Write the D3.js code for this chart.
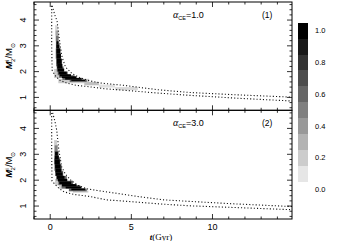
<!DOCTYPE html>
<html>
<head>
<meta charset="utf-8">
<script src="https://cdn.jsdelivr.net/npm/d3@7"></script>
<style>
  body { margin: 0; background: #fff; }
  text { font-family: "Liberation Sans", Arial, sans-serif; fill: #000; }
</style>
</head>
<body>
<svg id="chart"></svg>
<script>
// ---- data ----
const xMajor = [0, 5, 10];
const yMajor = [1, 2, 3, 4];
const colorLevels = [1.0, 0.9, 0.8, 0.7, 0.6, 0.5, 0.4, 0.3, 0.2, 0.1, 0.0];
const colorLabels = [1.0, 0.8, 0.6, 0.4, 0.2, 0.0];

// panel (1), alpha_CE = 1.0 : dotted envelope
const upper1T = [0.12, 0.28, 0.42, 0.52, 0.63, 0.73, 0.94, 1.35, 1.86, 2.44, 3.2, 4.5, 6.6, 8.6, 11.5, 14.9];
const upper1M = [4.55, 4.2, 3.97, 3.46, 2.95, 2.56, 2.18, 1.92, 1.76, 1.64, 1.55, 1.47, 1.3, 1.19, 1.1, 1.01];
const lower1T = [0.09, 0.09, 0.12, 0.3, 0.6, 1.04, 1.6, 2.44, 3.3, 4.5, 6.6, 8.6, 11.5, 14.9];
const lower1M = [4.55, 3.0, 2.05, 1.85, 1.66, 1.55, 1.47, 1.41, 1.34, 1.28, 1.17, 1.08, 0.97, 0.86];

// panel (2), alpha_CE = 3.0 : dotted envelope
const upper2T = [0.15, 0.28, 0.40, 0.53, 0.71, 0.95, 1.25, 1.7, 2.3, 2.9, 4.0, 5.5, 7.0, 8.6, 11.5, 14.9];
const upper2M = [4.6, 4.3, 3.93, 3.17, 2.5, 2.22, 2.01, 1.8, 1.66, 1.6, 1.5, 1.36, 1.24, 1.18, 1.08, 0.98];
const lower2T = [0.09, 0.09, 0.11, 0.28, 0.55, 0.85, 1.45, 2.44, 3.47, 4.8, 6.76, 8.6, 11.5, 14.9];
const lower2M = [4.6, 3.0, 1.97, 1.85, 1.68, 1.55, 1.45, 1.37, 1.24, 1.18, 1.08, 1.01, 0.94, 0.86];

// density cells: [t0, t1, M0, M1, fraction]
const cells1 = [
  [0.24, 0.62, 1.75, 2.10, 0.2],
  [0.50, 2.40, 1.55, 1.72, 0.2],
  [2.10, 3.00, 1.47, 1.60, 0.25],
  [3.00, 4.00, 1.38, 1.50, 0.12],
  [4.00, 5.40, 1.28, 1.40, 0.15],
  [0.30, 0.46, 3.60, 3.80, 0.15],
  [0.32, 0.50, 3.40, 3.60, 0.35],
  [0.34, 0.52, 3.18, 3.40, 0.55],
  [0.35, 0.55, 2.90, 3.18, 0.6],
  [0.34, 0.64, 2.50, 2.90, 0.6],
  [0.36, 0.73, 2.20, 2.50, 0.6],
  [0.40, 0.82, 2.00, 2.20, 0.6],
  [0.46, 1.08, 1.86, 2.00, 0.6],
  [0.55, 1.50, 1.76, 1.86, 0.6],
  [0.75, 1.95, 1.68, 1.76, 0.6],
  [1.20, 2.25, 1.60, 1.68, 0.6],
  [0.39, 0.50, 3.05, 3.18, 1],
  [0.38, 0.57, 2.90, 3.05, 1],
  [0.38, 0.61, 2.70, 2.90, 1],
  [0.39, 0.66, 2.50, 2.70, 1],
  [0.41, 0.70, 2.30, 2.50, 1],
  [0.43, 0.75, 2.12, 2.30, 1],
  [0.46, 0.86, 2.00, 2.12, 1],
  [0.52, 1.02, 1.90, 2.00, 1],
  [0.58, 1.28, 1.82, 1.90, 1],
  [0.72, 1.62, 1.75, 1.82, 1],
  [0.92, 1.92, 1.69, 1.75, 1],
  [1.30, 2.15, 1.64, 1.69, 1]
];
const cells2 = [
  [0.30, 0.55, 1.80, 2.05, 0.2],
  [0.55, 1.30, 1.66, 1.82, 0.2],
  [1.40, 2.35, 1.52, 1.60, 0.2],
  [0.24, 0.42, 3.35, 3.55, 0.2],
  [0.26, 0.46, 3.10, 3.35, 0.5],
  [0.26, 0.52, 2.85, 3.12, 0.6],
  [0.24, 0.62, 2.60, 2.85, 0.6],
  [0.26, 0.70, 2.36, 2.60, 0.6],
  [0.30, 0.80, 2.16, 2.36, 0.6],
  [0.38, 1.02, 1.98, 2.16, 0.6],
  [0.50, 1.40, 1.81, 1.98, 0.6],
  [0.70, 1.85, 1.68, 1.81, 0.6],
  [1.15, 2.25, 1.57, 1.68, 0.6],
  [0.30, 0.47, 2.95, 3.10, 1],
  [0.28, 0.53, 2.80, 2.95, 1],
  [0.28, 0.59, 2.62, 2.80, 1],
  [0.30, 0.64, 2.45, 2.62, 1],
  [0.32, 0.69, 2.30, 2.45, 1],
  [0.35, 0.76, 2.17, 2.30, 1],
  [0.40, 0.88, 2.05, 2.17, 1],
  [0.48, 1.05, 1.95, 2.05, 1],
  [0.56, 1.30, 1.85, 1.95, 1],
  [0.72, 1.62, 1.76, 1.85, 1],
  [0.95, 1.92, 1.68, 1.76, 1],
  [1.30, 2.15, 1.61, 1.68, 1]
];

const panels = [
  { alpha: '1.0', tag: '(1)', cells: cells1, upT: upper1T, upM: upper1M, loT: lower1T, loM: lower1M, top: 2, bottom: 110.3 },
  { alpha: '3.0', tag: '(2)', cells: cells2, upT: upper2T, upM: upper2M, loT: lower2T, loM: lower2M, top: 110.3, bottom: 219 }
];

// ---- drawing ----
const W = 344, H = 241;
const svg = d3.select('#chart').attr('width', W).attr('height', H);

const left = 34, right = 292;
const x = d3.scaleLinear().domain([-1, 14.9]).range([left, right]);
const grey = v => { const c = Math.round(255 * (1 - v)); return `rgb(${c},${c},${c})`; };

const line = d3.line().x(d => x(d[0]));

panels.forEach((p, i) => {
  const y = d3.scaleLinear().domain([0.5, 4.7]).range([p.bottom, p.top]);
  const g = svg.append('g');

  g.append('g')
    .selectAll('rect')
    .data(p.cells)
    .join('rect')
      .attr('x', d => x(d[0]))
      .attr('width', d => x(d[1]) - x(d[0]))
      .attr('y', d => y(d[3]))
      .attr('height', d => y(d[2]) - y(d[3]))
      .attr('fill', d => grey(d[4]));

  const lineY = line.y(d => y(d[1]));
  [[p.upT, p.upM], [p.loT, p.loM]].forEach(([ts, ms]) => {
    g.append('path')
      .attr('d', lineY(ts.map((t, k) => [t, ms[k]])))
      .attr('fill', 'none')
      .attr('stroke', '#111')
      .attr('stroke-width', 1.1)
      .attr('stroke-dasharray', '1.1 2.1');
  });

  // frame
  g.append('rect')
    .attr('x', left).attr('y', p.top)
    .attr('width', right - left).attr('height', p.bottom - p.top)
    .attr('fill', 'none').attr('stroke', '#000').attr('stroke-width', 1);

  // inward ticks on all sides
  const xMinor = d3.range(-1, 15, 1).filter(v => !xMajor.includes(v));
  const yMinor = d3.range(0.6, 4.7, 0.2).filter(v => !yMajor.some(m => Math.abs(m - v) < 1e-6));
  const tk = g.append('g').attr('stroke', '#000').attr('stroke-width', 0.8);
  const xt = (vals, len) => vals.forEach(v => {
    tk.append('line').attr('x1', x(v)).attr('x2', x(v)).attr('y1', p.bottom).attr('y2', p.bottom - len);
    tk.append('line').attr('x1', x(v)).attr('x2', x(v)).attr('y1', p.top).attr('y2', p.top + len);
  });
  const yt = (vals, len) => vals.forEach(v => {
    tk.append('line').attr('y1', y(v)).attr('y2', y(v)).attr('x1', left).attr('x2', left + len);
    tk.append('line').attr('y1', y(v)).attr('y2', y(v)).attr('x1', right).attr('x2', right - len);
  });
  xt(xMajor, 5); xt(xMinor, 2.5);
  yt(yMajor, 5); yt(yMinor, 2.5);

  // y tick labels (rotated)
  g.selectAll('text.ytick')
    .data(yMajor)
    .join('text')
      .attr('class', 'ytick')
      .attr('transform', d => `translate(26,${y(d)}) rotate(-90)`)
      .attr('text-anchor', 'middle')
      .attr('font-size', 9)
      .text(d => d);

  // y axis label
  const yl = g.append('text')
    .attr('transform', `translate(12,${(p.top + p.bottom) / 2}) rotate(-90)`)
    .attr('text-anchor', 'middle')
    .attr('font-size', 9.5);
  yl.append('tspan').attr('font-style', 'italic').attr('font-weight', 'bold').text('M');
  yl.append('tspan').attr('font-size', 6).attr('dy', -3.5).text('i');
  yl.append('tspan').attr('font-size', 6).attr('dx', -2).attr('dy', 6).text('2');
  yl.append('tspan').attr('dy', -2.5).text('/M');
  yl.append('tspan').attr('font-size', 6).attr('dy', 2.5).text('⊙');

  // annotations
  const a = g.append('text').attr('x', 173).attr('y', p.top + 16).attr('font-size', 9);
  a.append('tspan').attr('font-family', 'Liberation Serif').attr('font-style', 'italic').attr('font-size', 10).text('α');
  a.append('tspan').attr('font-size', 5.5).attr('dy', 2).text('CE');
  a.append('tspan').attr('dy', -2).text('=' + p.alpha);
  g.append('text').attr('x', 262).attr('y', p.top + 16).attr('font-size', 8.5).text(p.tag);

  if (i === 1) {
    g.selectAll('text.xtick')
      .data(xMajor)
      .join('text')
        .attr('class', 'xtick')
        .attr('x', d => x(d))
        .attr('y', 230)
        .attr('text-anchor', 'middle')
        .attr('font-size', 9)
        .text(d => d);
    const xl = g.append('text').attr('x', 161).attr('y', 240).attr('text-anchor', 'middle').attr('font-size', 9);
    xl.append('tspan').attr('font-family', 'Liberation Serif').attr('font-style', 'italic').attr('font-weight', 'bold').text('t');
    xl.append('tspan').attr('font-family', 'Liberation Serif').text('(Gyr)');
  }
});

// colour bar
const cb = d3.scaleLinear().domain([1.05, -0.05]).range([22.7, 22.7 + 11 * 15.9]);
const cbg = svg.append('g');
cbg.selectAll('rect')
  .data(colorLevels)
  .join('rect')
    .attr('x', 298).attr('width', 10)
    .attr('y', d => cb(d + 0.05))
    .attr('height', d => cb(d - 0.05) - cb(d + 0.05))
    .attr('fill', d => grey(d))
    .attr('shape-rendering', 'crispEdges');
cbg.selectAll('text')
  .data(colorLabels)
  .join('text')
    .attr('x', 315)
    .attr('y', d => cb(d))
    .attr('dy', '0.35em')
    .attr('font-size', 7.5)
    .text(d => d.toFixed(1));
</script>
</body>
</html>
